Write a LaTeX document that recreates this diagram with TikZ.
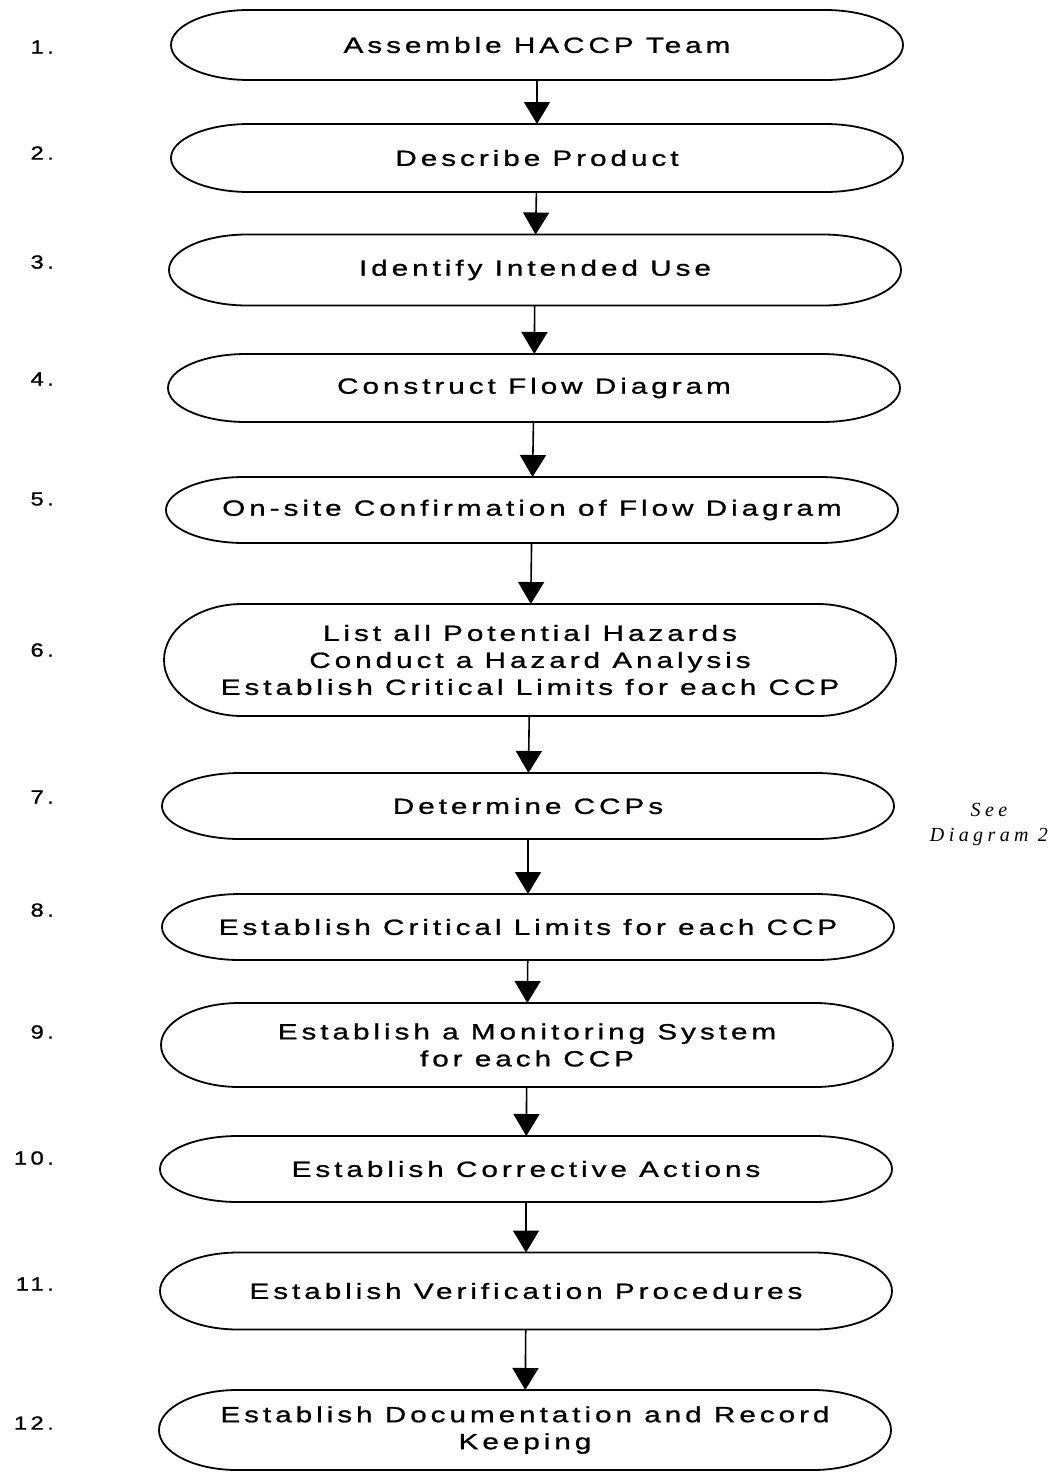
\documentclass[tikz,border=0pt]{standalone}
\usepackage{fontspec}
\usetikzlibrary{arrows.meta}
\usetikzlibrary{calc}

\newfontfamily\stagefont[LetterSpace=18,FakeStretch=1.35,FakeBold=1]{Liberation Sans}
\newfontfamily\numfont[LetterSpace=18,FakeStretch=1.25,FakeBold=1]{Liberation Sans}
\newfontfamily\notefont[LetterSpace=22]{Liberation Serif}

\tikzset{
  stage/.style={minimum width=732pt, align=center, inner sep=0pt, outer sep=0pt,
    font=\stagefont\fontsize{22}{27}\selectfont},
  outline/.style={line width=1.8pt},
  stepno/.style={anchor=east, inner sep=0pt, font=\numfont\fontsize{19}{21}\selectfont},
}

% capsule outline round a stage node
\newcommand{\capsule}[1]{%
  \draw[outline] ([xshift=78pt]#1.north west) -- ([xshift=-78pt]#1.north east)
    .. controls ([xshift=-35pt]#1.north east) and ($(#1.east)!.5523!(#1.north east)$) .. (#1.east)
    .. controls ($(#1.east)!.5523!(#1.south east)$) and ([xshift=-35pt]#1.south east) .. ([xshift=-78pt]#1.south east)
    -- ([xshift=78pt]#1.south west)
    .. controls ([xshift=35pt]#1.south west) and ($(#1.west)!.5523!(#1.south west)$) .. (#1.west)
    .. controls ($(#1.west)!.5523!(#1.north west)$) and ([xshift=35pt]#1.north west) .. cycle;}

\begin{document}
\begin{tikzpicture}[x=1pt,y=-1pt,>={Triangle[width=26pt,length=22pt]}]
      \fill[white] (0,0) rectangle (1058,1476);
      \useasboundingbox (0,0) rectangle (1058,1476);

      % the twelve steps
      \node[stage,minimum height=70pt]  (b1)  at (537,45)   {Assemble HACCP Team};
      \node[stage,minimum height=68pt]  (b2)  at (537,158)  {Describe Product};
      \node[stage,minimum height=71pt]  (b3)  at (535,270)  {Identify Intended Use};
      \node[stage,minimum height=68pt]  (b4)  at (534,388)  {Construct Flow Diagram};
      \node[stage,minimum height=66pt]  (b5)  at (532,510)  {On-site Confirmation of Flow Diagram};
      \node[stage,minimum height=112pt] (b6)  at (530,660)  {List all Potential Hazards\\Conduct a Hazard Analysis\\Establish Critical Limits for each CCP};
      \node[stage,minimum height=66pt]  (b7)  at (528,806)  {Determine CCPs};
      \node[stage,minimum height=66pt]  (b8)  at (528,927)  {Establish Critical Limits for each CCP};
      \node[stage,minimum height=84pt]  (b9)  at (527,1045) {Establish a Monitoring System\\for each CCP};
      \node[stage,minimum height=66pt]  (b10) at (526,1169) {Establish Corrective Actions};
      \node[stage,minimum height=77pt]  (b11) at (526,1291) {Establish Verification Procedures};
      \node[stage,minimum height=80pt]  (b12) at (525,1430) {Establish Documentation and Record\\Keeping};
      \foreach \i in {1,...,12} \capsule{b\i};

      % step numbers
      \node[stepno] (n1)  at (54,47)   {1.};
      \node[stepno] (n2)  at (54,153)  {2.};
      \node[stepno] (n3)  at (54,262)  {3.};
      \node[stepno] (n4)  at (54,379)  {4.};
      \node[stepno] (n5)  at (54,499)  {5.};
      \node[stepno] (n6)  at (54,650)  {6.};
      \node[stepno] (n7)  at (54,797)  {7.};
      \node[stepno] (n8)  at (54,910)  {8.};
      \node[stepno] (n9)  at (54,1032) {9.};
      \node[stepno] (n10) at (54,1158) {10.};
      \node[stepno] (n11) at (54,1284) {11.};
      \node[stepno] (n12) at (54,1423) {12.};

      \node[align=center,font=\notefont\itshape\fontsize{20}{25}\selectfont] (note) at (989,824) {See\\Diagram 2};

      \path[->,line width=1.6pt] (b1) edge (b2);
      \path[->,line width=1.6pt] (b2) edge (b3);
      \path[->,line width=1.6pt] (b3) edge (b4);
      \path[->,line width=1.6pt] (b4) edge (b5);
      \path[->,line width=1.6pt] (b5) edge (b6);
      \path[->,line width=1.6pt] (b6) edge (b7);
      \path[->,line width=1.6pt] (b7) edge (b8);
      \path[->,line width=1.6pt] (b8) edge (b9);
      \path[->,line width=1.6pt] (b9) edge (b10);
      \path[->,line width=1.6pt] (b10) edge (b11);
      \path[->,line width=1.6pt] (b11) edge (b12);
    \end{tikzpicture}
\end{document}
